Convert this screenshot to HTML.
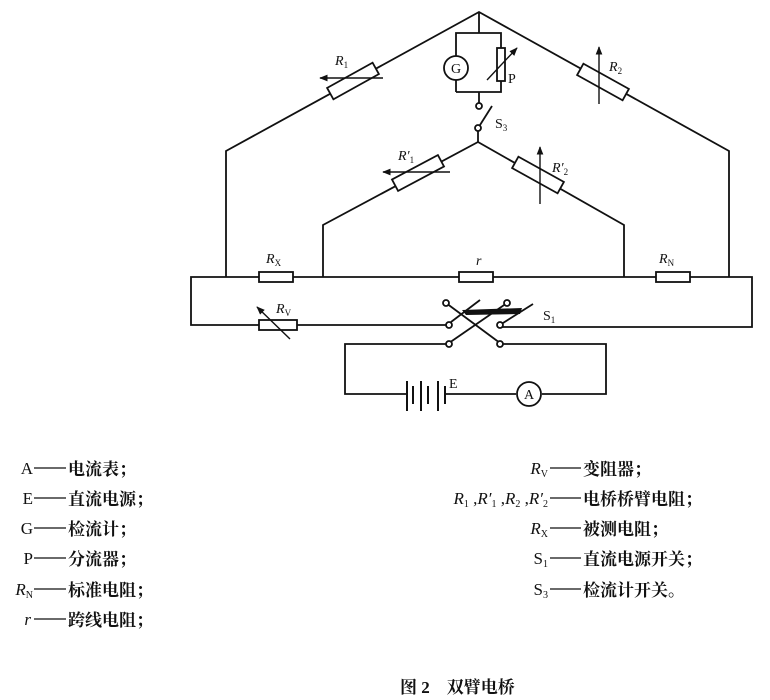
<!DOCTYPE html>
<html><head><meta charset="utf-8"><style>
body{margin:0;background:#fff;}
svg{display:block;}
text{font-family:"Liberation Serif","Noto Serif CJK SC",serif;fill:#111;}
.cj{font-family:"Noto Sans CJK SC",sans-serif;font-size:17px;font-weight:bold;}
</style></head><body>
<svg width="770" height="700" viewBox="0 0 770 700" xmlns="http://www.w3.org/2000/svg">
<defs>
<marker id="ar" viewBox="0 0 10 10" refX="9" refY="5" markerWidth="6" markerHeight="6" orient="auto-start-reverse"><path d="M0,1 L10,5 L0,9 z" fill="#111"/></marker>
</defs>
<g stroke="#111" stroke-width="1.8" fill="none">
<polyline points="226,277 226,151 479,12 729,151 729,277"/>
<line x1="479" y1="12" x2="479" y2="33"/>
<polyline points="456,92 456,33 501,33 501,92 456,92"/>
<line x1="479" y1="92" x2="479" y2="103"/>
<line x1="480" y1="125" x2="492" y2="106"/>
<line x1="478" y1="131" x2="478" y2="142"/>
<polyline points="323,277 323,225 478,142 624,225 624,277"/>
<polyline points="449,325 191,325 191,277 752,277 752,327 500,327"/>
<line x1="446" y1="303" x2="500" y2="343"/>
<line x1="507" y1="303" x2="449" y2="343"/>
<line x1="451" y1="322" x2="480" y2="300"/>
<line x1="503" y1="323" x2="533" y2="304"/>
<polyline points="446,344 345,344 345,394 407,394"/>
<polyline points="500,344 606,344 606,394 542,394"/>
<line x1="446" y1="394" x2="516" y2="394"/>
</g>
<polygon points="462,310 522,308 520,314 466,315" fill="#111"/>
<g stroke="#111" stroke-width="1.8" fill="#fff">
<rect x="-26" y="-6.5" width="52" height="13" transform="translate(353,81) rotate(-29)"/>
<rect x="-26" y="-6.5" width="52" height="13" transform="translate(603,82) rotate(29)"/>
<rect x="-26" y="-6.5" width="52" height="13" transform="translate(418,173) rotate(-28)"/>
<rect x="-26" y="-6.5" width="52" height="13" transform="translate(538,175) rotate(29)"/>
<rect x="497" y="48" width="8" height="33"/>
<rect x="259" y="272" width="34" height="10"/>
<rect x="459" y="272" width="34" height="10"/>
<rect x="656" y="272" width="34" height="10"/>
<rect x="259" y="320" width="38" height="10"/>
<circle cx="456" cy="68" r="12"/>
<circle cx="529" cy="394" r="12"/>
<circle cx="479" cy="106" r="3"/>
<circle cx="478" cy="128" r="3"/>
<circle cx="446" cy="303" r="3"/>
<circle cx="507" cy="303" r="3"/>
<circle cx="449" cy="325" r="3"/>
<circle cx="500" cy="325" r="3"/>
<circle cx="449" cy="344" r="3"/>
<circle cx="500" cy="344" r="3"/>
</g>
<g stroke="#111" stroke-width="1.4" fill="none">
<line x1="383" y1="78" x2="320" y2="78" marker-end="url(#ar)"/>
<line x1="450" y1="172" x2="383" y2="172" marker-end="url(#ar)"/>
<line x1="599" y1="104" x2="599" y2="47" marker-end="url(#ar)"/>
<line x1="540" y1="204" x2="540" y2="147" marker-end="url(#ar)"/>
<line x1="487" y1="80" x2="517" y2="48" marker-end="url(#ar)"/>
<line x1="290" y1="339" x2="257" y2="307" marker-end="url(#ar)"/>
</g>
<g stroke="#111">
<line x1="407" y1="381" x2="407" y2="411" stroke-width="2"/>
<line x1="413" y1="386" x2="413" y2="404" stroke-width="2"/>
<line x1="421" y1="381" x2="421" y2="411" stroke-width="2"/>
<line x1="428" y1="386" x2="428" y2="404" stroke-width="2"/>
<line x1="438" y1="381" x2="438" y2="411" stroke-width="2"/>
<line x1="445" y1="386" x2="445" y2="404" stroke-width="2"/>
</g>
<g font-size="14">
<text x="456" y="73" text-anchor="middle">G</text>
<text x="529" y="399" text-anchor="middle">A</text>
<text x="449" y="388">E</text>
<text x="508" y="83">P</text>
<text x="495" y="128">S<tspan font-size="9" dy="3">3</tspan></text>
<text x="543" y="320">S<tspan font-size="9" dy="3">1</tspan></text>
<text x="335" y="65" font-style="italic">R<tspan font-size="9" dy="3" font-style="normal">1</tspan></text>
<text x="609" y="71" font-style="italic">R<tspan font-size="9" dy="3" font-style="normal">2</tspan></text>
<text x="398" y="160" font-style="italic">R′<tspan font-size="9" dy="3" font-style="normal">1</tspan></text>
<text x="552" y="172" font-style="italic">R′<tspan font-size="9" dy="3" font-style="normal">2</tspan></text>
<text x="266" y="263" font-style="italic">R<tspan font-size="9" dy="3" font-style="normal">X</tspan></text>
<text x="476" y="265" font-style="italic">r</text>
<text x="659" y="263" font-style="italic">R<tspan font-size="9" dy="3" font-style="normal">N</tspan></text>
<text x="276" y="313" font-style="italic">R<tspan font-size="9" dy="3" font-style="normal">V</tspan></text>
</g>
<g font-size="17" text-anchor="end">
<text x="33" y="474">A</text>
<text x="33" y="504">E</text>
<text x="33" y="534">G</text>
<text x="33" y="564">P</text>
<text x="33" y="595"><tspan font-style="italic">R</tspan><tspan font-size="10" dy="3">N</tspan></text>
<text x="31" y="625" font-style="italic">r</text>
<text x="548" y="474"><tspan font-style="italic">R</tspan><tspan font-size="10" dy="3">V</tspan></text>
<text x="548" y="504"><tspan font-style="italic">R</tspan><tspan font-size="10" dy="3">1</tspan><tspan dy="-3"> ,</tspan><tspan font-style="italic">R′</tspan><tspan font-size="10" dy="3">1</tspan><tspan dy="-3"> ,</tspan><tspan font-style="italic">R</tspan><tspan font-size="10" dy="3">2</tspan><tspan dy="-3"> ,</tspan><tspan font-style="italic">R′</tspan><tspan font-size="10" dy="3">2</tspan></text>
<text x="548" y="534"><tspan font-style="italic">R</tspan><tspan font-size="10" dy="3">X</tspan></text>
<text x="548" y="564">S<tspan font-size="10" dy="3">1</tspan></text>
<text x="548" y="595">S<tspan font-size="10" dy="3">3</tspan></text>
</g>
<g stroke="#111" stroke-width="1.3">
<line x1="34" y1="468" x2="66" y2="468"/>
<line x1="34" y1="498" x2="66" y2="498"/>
<line x1="34" y1="528" x2="66" y2="528"/>
<line x1="34" y1="558" x2="66" y2="558"/>
<line x1="34" y1="589" x2="66" y2="589"/>
<line x1="34" y1="619" x2="66" y2="619"/>
<line x1="550" y1="468" x2="581" y2="468"/>
<line x1="550" y1="498" x2="581" y2="498"/>
<line x1="550" y1="528" x2="581" y2="528"/>
<line x1="550" y1="558" x2="581" y2="558"/>
<line x1="550" y1="589" x2="581" y2="589"/>
</g>
<g class="cj">
<text x="68" y="475">电流表；</text>
<text x="68" y="505">直流电源；</text>
<text x="68" y="535">检流计；</text>
<text x="68" y="565">分流器；</text>
<text x="68" y="596">标准电阻；</text>
<text x="68" y="626">跨线电阻；</text>
<text x="583" y="475">变阻器；</text>
<text x="583" y="505">电桥桥臂电阻；</text>
<text x="583" y="535">被测电阻；</text>
<text x="583" y="565">直流电源开关；</text>
<text x="583" y="596">检流计开关。</text>
<text x="400" y="693" font-size="17">图 2　双臂电桥</text>
</g>
</svg>
</body></html>
